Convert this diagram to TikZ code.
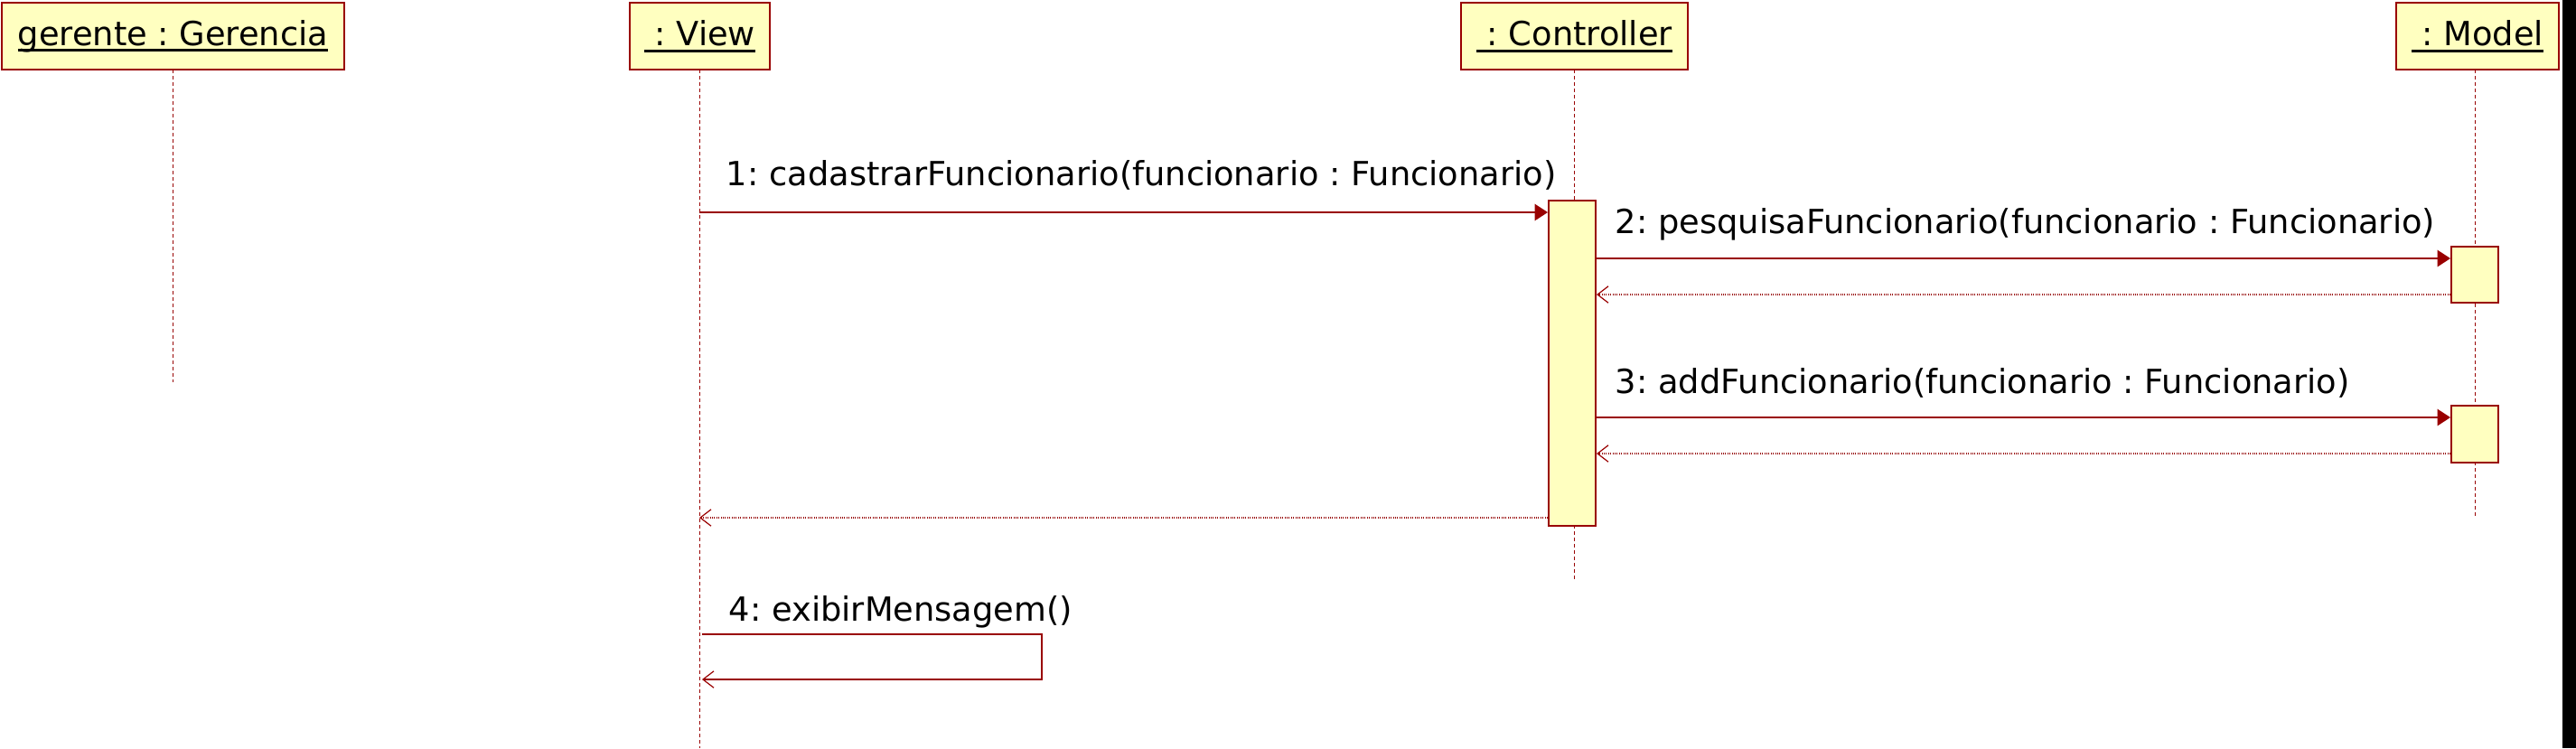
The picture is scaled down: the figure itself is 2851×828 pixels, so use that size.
\documentclass[tikz,border=0pt]{standalone}
\usepackage{fontspec}
\setmainfont{DejaVu Sans}
\usetikzlibrary{arrows.meta}
\frenchspacing
\definecolor{umlred}{HTML}{990000}
\definecolor{umlfill}{HTML}{FFFFC0}
\newcommand\objname[1]{\setbox0\hbox{#1}\rlap{\rule[-1.8pt]{\wd0}{0.75pt}}\box0}
\tikzset{
  obj/.style={draw=umlred,fill=umlfill,line width=0.5pt,inner sep=0pt,minimum height=18.5pt,font=\fontsize{9.2}{11}\selectfont},
  act/.style={draw=umlred,fill=umlfill,line width=0.5pt,inner sep=0pt,minimum width=13pt},
  life/.style={draw=umlred,line width=0.25pt,dash pattern=on 1pt off 0.75pt},
  call/.style={draw=umlred,line width=0.35pt,-{Triangle[length=3.6pt,width=4.6pt]}},
  reply/.style={draw=umlred,line width=0.3pt,dash pattern=on 0.25pt off 0.35pt,-{Straight Barb[length=3pt,width=4.6pt,line width=0.3pt]}},
  self/.style={draw=umlred,line width=0.35pt,-{Straight Barb[length=3pt,width=4.6pt,line width=0.3pt]}},
  msg/.style={anchor=base west,inner sep=0pt,font=\fontsize{9.2}{11}\selectfont}
}
\begin{document}
\begin{tikzpicture}[x=0.25pt,y=-0.25pt]
        \useasboundingbox (0,0) rectangle (2851,828);
        \fill (2836,0) rectangle (2851,828);
        \draw [life] (191,77) -- (191,423);
        \draw [life] (774,77) -- (774,828);
        \draw [life] (1742,77) -- (1742,641);
        \draw [life] (2739,77) -- (2739,573);
        \node [obj,minimum width=94.75pt] (gerente) at (191.5,40) {\objname{gerente : Gerencia}};
        \node [obj,minimum width=38.75pt] (view) at (774.5,40) {\objname{\ : View}};
        \node [obj,minimum width=62.75pt] (ctrl) at (1742.5,40) {\objname{\ : Controller}};
        \node [obj,minimum width=45pt] (model) at (2742,40) {\objname{\ : Model}};
        \node [act,minimum height=90pt] (ctrlAct) at (1740,402) {};
        \node [act,minimum height=15.5pt] (modelActA) at (2739,304) {};
        \node [act,minimum height=15.75pt] (modelActB) at (2739,480.5) {};
        \coordinate (m1) at (774,235);
        \coordinate (m2) at (1742,286);
        \coordinate (r2) at (2739,326);
        \coordinate (m3) at (1742,462);
        \coordinate (r3) at (2739,502);
        \coordinate (r1) at (774,573);
        \draw [call] (m1) -- (m1 -| ctrlAct.west);
        \node [msg] at (803,205) {1: cadastrarFuncionario(funcionario : Funcionario)};
        \draw [call] (m2 -| ctrlAct.east) -- (m2 -| modelActA.west);
        \node [msg] at (1787,258) {2: pesquisaFuncionario(funcionario : Funcionario)};
        \draw [reply] (r2 -| modelActA.west) -- (r2 -| ctrlAct.east);
        \draw [call] (m3 -| ctrlAct.east) -- (m3 -| modelActB.west);
        \node [msg] at (1787,435) {3: addFuncionario(funcionario : Funcionario)};
        \draw [reply] (r3 -| modelActB.west) -- (r3 -| ctrlAct.east);
        \draw [reply] (r1 -| ctrlAct.west) -- (r1);
        \node [msg] at (806,687) {4: exibirMensagem()};
        \draw [self] (777,702) -- (1153,702) -- (1153,752) -- (777,752);
    \end{tikzpicture}
\end{document}
